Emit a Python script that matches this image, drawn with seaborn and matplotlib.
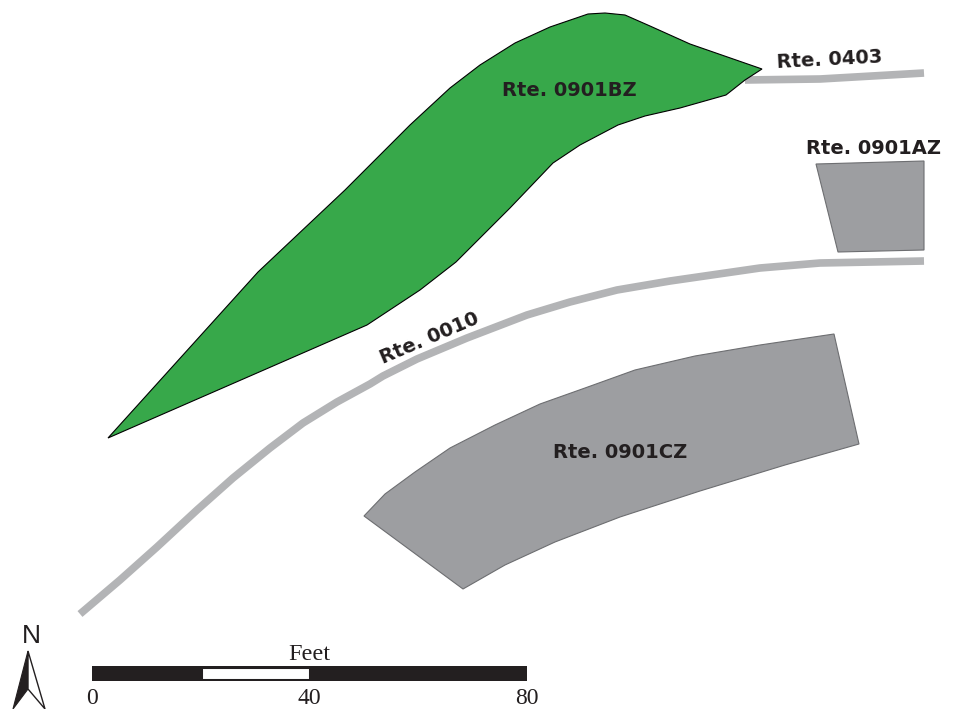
import matplotlib.pyplot as plt
import pandas as pd
import seaborn as sns

# map outlines (pixel coordinates of the sheet)
rte_0901bz_x = [108, 258, 345, 410, 450, 480, 515, 550, 588, 605, 625, 650, 690, 762,
                745, 726, 680, 645, 618, 580, 553, 510, 456, 420, 367]
rte_0901bz_y = [438, 272, 190, 125, 88, 65, 43, 27, 14, 13, 15, 26, 44, 69,
                80, 95, 108, 116, 125, 145, 163, 208, 262, 290, 325]
rte_0901cz_x = [364, 385, 415, 450, 495, 540, 585, 635, 695, 760, 834, 859,
                785, 700, 620, 555, 505, 463]
rte_0901cz_y = [516, 494, 472, 448, 425, 404, 388, 370, 356, 345, 334, 444,
                465, 491, 517, 542, 565, 589]
rte_0901az_x = [816, 924, 924, 838]
rte_0901az_y = [164, 161, 250, 252]
rte_0010_x = [80, 120, 157, 197, 233, 270, 303, 337, 370, 383, 417, 467, 527, 570,
              617, 670, 760, 820, 924]
rte_0010_y = [614, 580, 547, 510, 478, 448, 423, 402, 384, 376, 359, 338, 315, 302,
              290, 281, 268, 263, 261]
rte_0403_x = [745, 820, 924]
rte_0403_y = [80, 79, 73]

# scale bar
scale_edges = [0, 20, 40, 80]
scale_colors = ["#231f20", "white", "#231f20"]
scale_ticks = [0, 40, 80]

GREEN = "#37a84a"
GREY = "#9d9ea1"
ROAD = "#b3b4b6"
INK = "#231f20"

sns.set_theme(style="white")
plt.rcParams["font.family"] = ["DejaVu Sans"]

fig = plt.figure(figsize=(9.59, 7.09), dpi=100)
ax = fig.add_axes([0, 0, 1, 1])

# roads
for xs, ys in [(rte_0010_x, rte_0010_y), (rte_0403_x, rte_0403_y)]:
    road = pd.DataFrame({"x": xs, "y": ys})
    sns.lineplot(data=road, x="x", y="y", sort=False, estimator=None, ax=ax,
                 color=ROAD, linewidth=5.5, solid_capstyle="butt", zorder=1)

# parcels
ax.fill(rte_0901bz_x, rte_0901bz_y, facecolor=GREEN, edgecolor="black", linewidth=0.8, zorder=2)
ax.fill(rte_0901cz_x, rte_0901cz_y, facecolor=GREY, edgecolor="#6d6e71", linewidth=0.8, zorder=2)
ax.fill(rte_0901az_x, rte_0901az_y, facecolor=GREY, edgecolor="#6d6e71", linewidth=0.8, zorder=2)

ax.set_xlim(0, 959)
ax.set_ylim(709, 0)
ax.axis("off")

# labels
lab = dict(ha="center", va="center", fontsize=14, fontweight="bold", color=INK, zorder=3)
ax.text(569, 90, "Rte. 0901BZ", **lab)
ax.text(830, 60, "Rte. 0403", rotation=3, **lab)
ax.text(873, 149, "Rte. 0901AZ", **lab)
ax.text(429, 338, "Rte. 0010", rotation=23, rotation_mode="anchor", **lab)
ax.text(620, 452, "Rte. 0901CZ", **lab)

# north arrow
ax.fill([28, 13, 28], [651, 709, 689], facecolor=INK, edgecolor=INK, linewidth=0.8)
ax.fill([28, 45, 28], [651, 709, 689], facecolor="white", edgecolor=INK, linewidth=1.0)
ax.text(31, 636, "N", ha="center", va="center", fontsize=19, color=INK, family="Liberation Sans")

# scale bar on its own axis in feet
sc = fig.add_axes([92 / 959, 1 - 681 / 709, 435 / 959, 15 / 709])
sc.barh(0, 80, height=1, color=INK, linewidth=0, zorder=0)
for left, right, col in zip(scale_edges[:-1], scale_edges[1:], scale_colors):
    if col == "white":
        sc.barh(0, right - left, left=left, height=0.85, color=col,
                edgecolor=INK, linewidth=2.2, zorder=2)
sc.set_xlim(0, 80)
sc.set_ylim(-0.5, 0.5)
sc.set_yticks([])
sc.set_xticks(scale_ticks)
sc.set_xticklabels([str(t) for t in scale_ticks], fontsize=17, family="Liberation Serif", color=INK)
sc.tick_params(axis="x", length=0, pad=5)
sc.set_title("Feet", fontsize=17.5, family="Liberation Serif", color=INK, pad=4)
sns.despine(ax=sc, left=True, bottom=True)

fig.savefig("out.png", dpi=100)
plt.close(fig)
